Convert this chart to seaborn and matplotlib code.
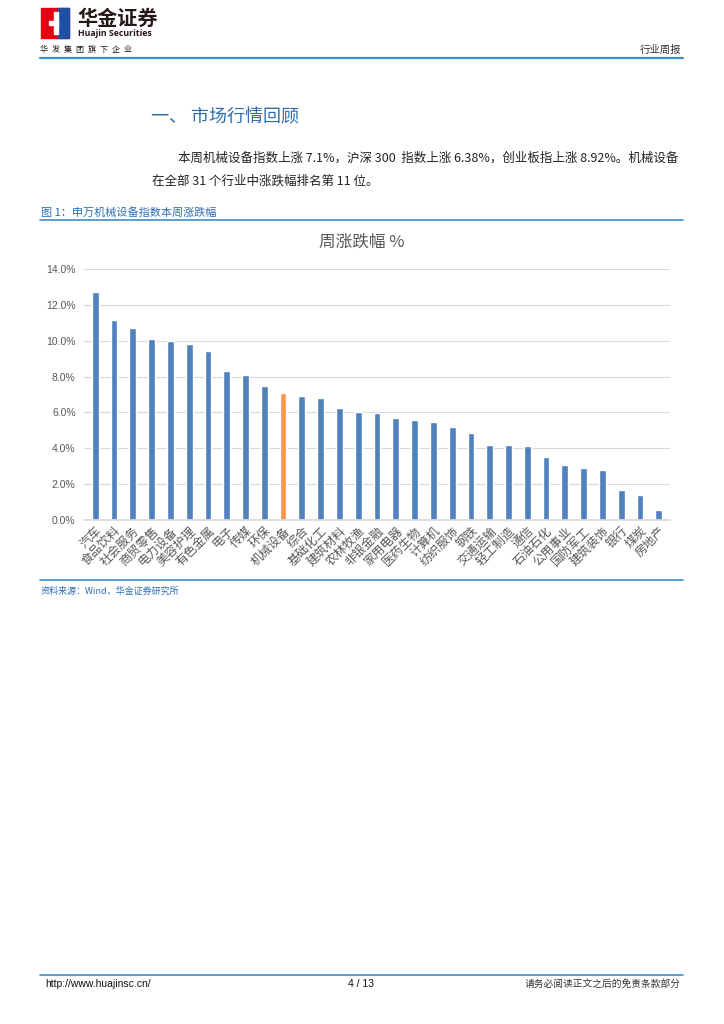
import pandas as pd
import seaborn as sns
import matplotlib.pyplot as plt
from matplotlib.lines import Line2D
from matplotlib.patches import Rectangle
from matplotlib.ticker import FuncFormatter

# data (weekly change, %)
industries = ["汽车", "食品饮料", "社会服务", "商贸零售", "电力设备", "美容护理", "有色金属",
              "电子", "传媒", "环保", "机械设备", "综合", "基础化工", "建筑材料", "农林牧渔",
              "非银金融", "家用电器", "医药生物", "计算机", "纺织服饰", "钢铁", "交通运输",
              "轻工制造", "通信", "石油石化", "公用事业", "国防军工", "建筑装饰", "银行",
              "煤炭", "房地产"]
weekly_change = [12.70, 11.13, 10.72, 10.11, 9.96, 9.83, 9.44, 8.32, 8.10, 7.50, 7.10,
                 6.93, 6.83, 6.24, 6.03, 5.98, 5.70, 5.60, 5.49, 5.19, 4.86, 4.21,
                 4.17, 4.11, 3.54, 3.09, 2.90, 2.81, 1.66, 1.38, 0.58]
highlight = "机械设备"
y_ticks = [0, 2, 4, 6, 8, 10, 12, 14]

BLUE = "#4F81BD"
ORANGE = "#F79646"
LINE_BLUE = "#3F8FCB"
TEXT_BLUE = "#2F6DB0"

sns.set_theme(style="white")
plt.rcParams["font.family"] = ["Noto Sans CJK SC", "DejaVu Sans"]

W, H = 724, 1024
fig = plt.figure(figsize=(W / 100, H / 100), dpi=100)


def fx(px):
    return px / W


def fy(py):
    return 1 - py / H


# ---- page header ----
fig.add_artist(Rectangle((fx(41), fy(38)), 28 / W, 30 / H, color="#E60012", transform=fig.transFigure))
fig.add_artist(Rectangle((fx(58), fy(38)), 11 / W, 30 / H, color="#1E50A2", transform=fig.transFigure))
fig.add_artist(Rectangle((fx(54), fy(34)), 4 / W, 22 / H, color="white", transform=fig.transFigure))
fig.add_artist(Rectangle((fx(49), fy(25)), 9 / W, 4 / H, color="white", transform=fig.transFigure))
fig.text(fx(77), fy(18), "华金证券", fontsize=14.5, fontweight="bold", color="#231815", va="center")
fig.text(fx(78), fy(34), "Huajin Securities", fontsize=6.3, fontweight="bold", color="#231815",
         va="center", family=["Open Sans", "DejaVu Sans"])
fig.text(fx(40), fy(49), "华\u2002发\u2002集\u2002团\u2002旗\u2002下\u2002企\u2002业", fontsize=5.8,
         color="#231815", va="center", family=["Noto Sans CJK SC", "DejaVu Sans"])
fig.text(fx(681), fy(50), "行业周报", fontsize=7.5, color="#333333", va="center", ha="right")
fig.add_artist(Line2D([fx(40), fx(683)], [fy(58), fy(58)], color=LINE_BLUE, lw=1.6))

# ---- section text ----
fig.text(fx(151), fy(117), "一、 市场行情回顾", fontsize=13, color=TEXT_BLUE, va="center")
fig.text(fx(178), fy(158), "本周机械设备指数上涨 7.1%，沪深 300  指数上涨 6.38%，创业板指上涨 8.92%。机械设备",
         fontsize=9.0, color="#222222", va="center")
fig.text(fx(152), fy(181), "在全部 31 个行业中涨跌幅排名第 11 位。", fontsize=9.0, color="#222222", va="center")

fig.text(fx(41), fy(212), "图 1：申万机械设备指数本周涨跌幅", fontsize=8, color=TEXT_BLUE, va="center")
fig.add_artist(Line2D([fx(40), fx(683)], [fy(220), fy(220)], color=LINE_BLUE, lw=1.2))

# ---- chart ----
ax = fig.add_axes([fx(84), fy(520), (670 - 84) / W, (520 - 269) / H])
df = pd.DataFrame({"industry": industries, "change": weekly_change})
palette = {name: (ORANGE if name == highlight else BLUE) for name in industries}
sns.barplot(data=df, x="industry", y="change", hue="industry", palette=palette,
            legend=False, width=0.36, saturation=1, ax=ax)

ax.set_ylim(0, 14)
ax.set_yticks(y_ticks)
ax.yaxis.set_major_formatter(FuncFormatter(lambda v, _: f"{v:.1f}%"))
ax.set_xlim(-0.6, len(industries) - 0.4)
ax.grid(axis="y", color="#D9D9D9", lw=0.8)
ax.set_axisbelow(True)
for side in ["top", "right", "left"]:
    ax.spines[side].set_visible(False)
ax.spines["bottom"].set_color("#D9D9D9")
ax.tick_params(axis="both", length=0, colors="#595959")
ax.tick_params(axis="y", labelsize=7.5, pad=6)
ax.tick_params(axis="x", labelsize=8.8, pad=3)
plt.setp(ax.get_xticklabels(), rotation=45, ha="right", rotation_mode="anchor")
plt.setp(ax.get_yticklabels(), family=["Liberation Sans", "DejaVu Sans"])
ax.set_xlabel("")
ax.set_ylabel("")

fig.text(fx(362), fy(242), "周涨跌幅 %", fontsize=12, color="#595959", va="center", ha="center")

fig.add_artist(Line2D([fx(40), fx(683)], [fy(580), fy(580)], color=LINE_BLUE, lw=1.2))
fig.text(fx(41), fy(591), "资料来源：Wind，华金证券研究所", fontsize=6.5, color=TEXT_BLUE,
         va="center", style="italic")

# ---- footer ----
fig.add_artist(Line2D([fx(40), fx(683)], [fy(975), fy(975)], color=LINE_BLUE, lw=1.2))
fig.text(fx(45), fy(984), "http://www.huajinsc.cn/", fontsize=7.5, color="#111111", va="center",
         family=["Liberation Sans", "DejaVu Sans"])
fig.text(fx(361), fy(984), "4 / 13", fontsize=7.5, color="#111111", va="center", ha="center",
         family=["Liberation Sans", "DejaVu Sans"])
fig.text(fx(681), fy(984), "请务必阅读正文之后的免责条款部分", fontsize=7, color="#333333",
         va="center", ha="right")

fig.savefig("out.png", dpi=100)
